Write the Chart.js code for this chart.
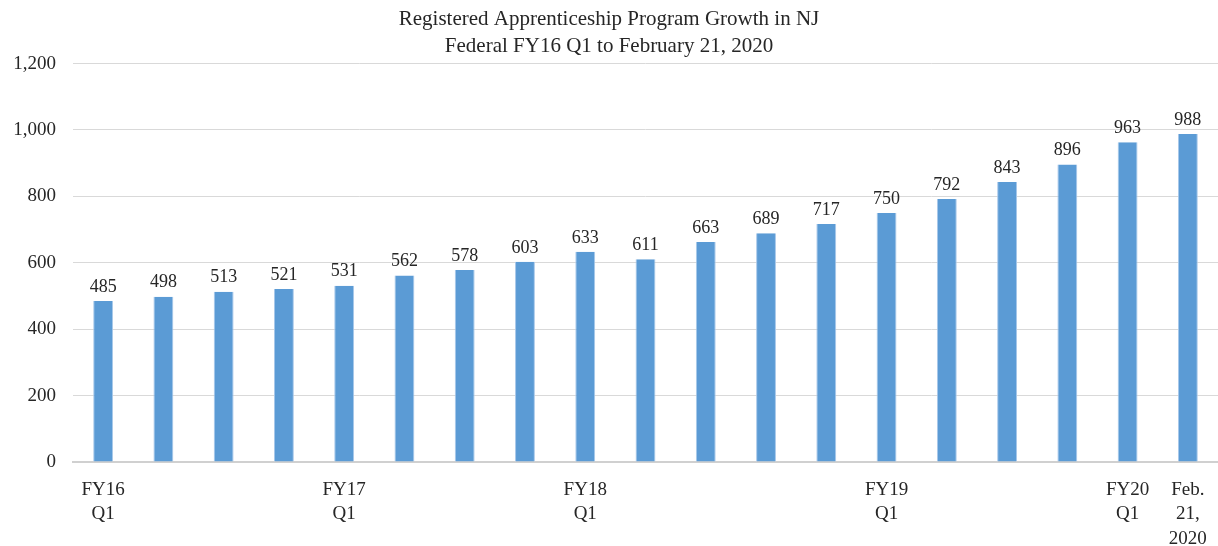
<!DOCTYPE html>
<html>
<head>
<meta charset="utf-8">
<script src="https://cdn.jsdelivr.net/npm/chart.js@4"></script>
<style>
  html, body { margin: 0; padding: 0; background: #fff; }
  #wrap { width: 1218px; height: 546px; }
</style>
</head>
<body>
<div id="wrap"><canvas id="chart"></canvas></div>
<script>
// categories (multi-line tick labels, blank where the reference shows none)
const categories = [
    ['FY16', 'Q1'], '', '', '', ['FY17', 'Q1'], '', '', '', ['FY18', 'Q1'], '',
    '', '', '', ['FY19', 'Q1'], '', '', '', ['FY20', 'Q1'], ['Feb.', '21,', '2020']
];
const programs = [485, 498, 513, 521, 531, 562, 578, 603, 633, 611,
    663, 689, 717, 750, 792, 843, 896, 963, 988];
const titleLines = ['Registered Apprenticeship Program Growth in NJ',
    'Federal FY16 Q1 to February 21, 2020'];

const serif = "'Liberation Serif', 'DejaVu Serif', serif";
const text_colour = '#262626';

// value labels above each bar
const barLabels = {
    id: 'barLabels',
    afterDatasetsDraw(chart) {
        const ctx = chart.ctx;
        const meta = chart.getDatasetMeta(0);
        ctx.save();
        ctx.font = '18px ' + serif;
        ctx.fillStyle = text_colour;
        ctx.textAlign = 'center';
        ctx.textBaseline = 'bottom';
        meta.data.forEach((bar, i) => {
            ctx.fillText(programs[i].toLocaleString('en-US'), bar.x, bar.y - 5);
        });
        ctx.restore();
    }
};

new Chart(document.getElementById('chart'), {
    type: 'bar',
    data: {
        labels: categories,
        datasets: [{
            data: programs,
            backgroundColor: '#5b9bd5',
            borderColor: '#a8c8ea',
            borderWidth: { left: 1, right: 1, top: 0, bottom: 0 },
            barPercentage: 0.33,
            categoryPercentage: 1,
        }]
    },
    options: {
        responsive: true,
        maintainAspectRatio: false,
        animation: false,
        layout: { padding: { left: 0, right: 0, top: 0, bottom: 0 } },
        plugins: {
            legend: { display: false },
            tooltip: { enabled: false },
            title: {
                display: true,
                text: titleLines,
                color: text_colour,
                font: { family: serif, size: 21, weight: 'normal', lineHeight: 1.3 },
                padding: { top: 6, bottom: 3 },
            },
        },
        scales: {
            x: {
                afterFit(scale) {
                    scale.height = 84;
                    // let the plot run to the right edge like the reference
                    scale.paddingLeft = 0;
                    scale.paddingRight = 0;
                },
                grid: { display: false, drawTicks: false },
                border: { color: '#d0d0d0', width: 2 },
                ticks: {
                    autoSkip: false,
                    maxRotation: 0,
                    color: text_colour,
                    padding: 16,
                    font: { family: serif, size: 19, lineHeight: 1.28 },
                },
            },
            y: {
                min: 0,
                max: 1200,
                afterFit(scale) { scale.width = 73; },
                grid: { color: '#d9d9d9', drawTicks: false },
                border: { display: false },
                ticks: {
                    stepSize: 200,
                    color: text_colour,
                    padding: 17,
                    font: { family: serif, size: 19 },
                    callback: (v) => v.toLocaleString('en-US'),
                },
            },
        },
    },
    plugins: [barLabels],
});
</script>
</body>
</html>
